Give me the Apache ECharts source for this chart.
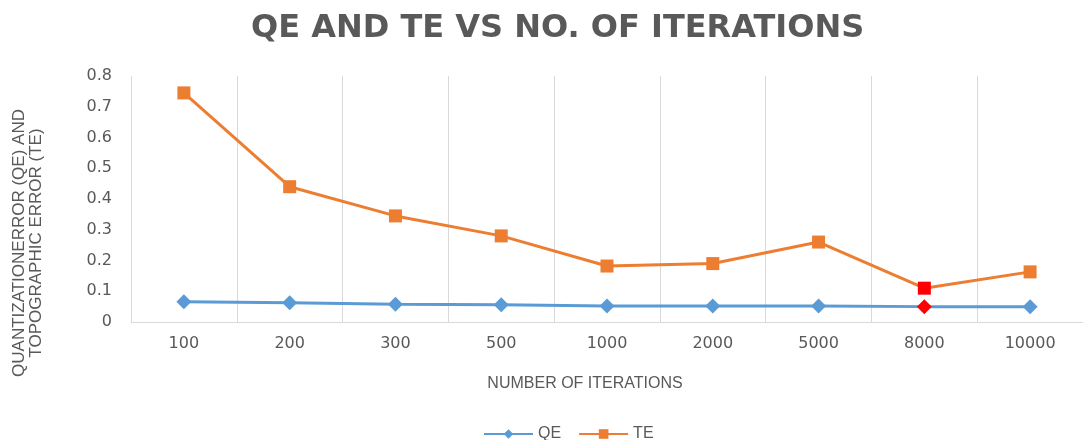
<!DOCTYPE html>
<html>
<head>
<meta charset="utf-8">
<title>QE and TE vs No. of Iterations</title>
<script src="https://cdn.jsdelivr.net/npm/echarts@6/dist/echarts.min.js"></script>
<style>
  html, body { margin: 0; padding: 0; background: #fff; }
  #chart { width: 1083px; height: 440px; }
</style>
</head>
<body>
<div id="chart"></div>
<script>
// data
var iterations = ['100', '200', '300', '500', '1000', '2000', '5000', '8000', '10000']
var qeValues = [0.066, 0.063, 0.058, 0.056, 0.052, 0.052, 0.052, 0.05, 0.05]
var teValues = [0.745, 0.44, 0.345, 0.28, 0.182, 0.19, 0.26, 0.11, 0.163]
var highlightIndex = 7 // the 8000 point is drawn in red

var textColor = '#595959'
var gridColor = '#D9D9D9'

function markRed(values) {
  return values.map(function (v, i) {
    if (i === highlightIndex) {
      return { value: v, itemStyle: { color: '#FF0000' } }
    }
    return v
  })
}

var chart = echarts.init(document.getElementById('chart'))

chart.setOption({
  animation: false,
  title: {
    text: 'QE AND TE VS NO. OF ITERATIONS',
    left: 246,
    top: 8,
    textStyle: {
      fontFamily: 'DejaVu Sans',
      fontWeight: 'bold',
      fontSize: 32,
      color: textColor
    }
  },
  legend: {
    left: 478,
    top: 421,
    itemWidth: 49,
    itemHeight: 12,
    itemGap: 17,
    data: ['QE', 'TE'],
    textStyle: {
      fontFamily: 'Liberation Sans',
      fontSize: 16,
      color: textColor
    }
  },
  grid: {
    left: 131,
    right: -8,
    top: 76,
    bottom: 118
  },
  xAxis: {
    type: 'category',
    data: iterations,
    boundaryGap: true,
    axisLine: { lineStyle: { color: gridColor, width: 1 } },
    axisTick: { show: false },
    axisLabel: {
      margin: 14,
      fontFamily: 'DejaVu Sans',
      fontSize: 16,
      color: textColor
    },
    splitLine: {
      show: true,
      lineStyle: { color: gridColor, width: 1 }
    }
  },
  yAxis: {
    type: 'value',
    min: 0,
    max: 0.8,
    interval: 0.1,
    axisLine: { show: false },
    axisTick: { show: false },
    splitLine: { show: false },
    axisLabel: {
      margin: 19,
      fontFamily: 'DejaVu Sans',
      fontSize: 16,
      color: textColor
    }
  },
  graphic: [
    {
      type: 'text',
      x: 28,
      y: 243,
      rotation: Math.PI / 2,
      style: {
        text: 'QUANTIZATIONERROR (QE) AND\nTOPOGRAPHIC ERROR (TE)',
        align: 'center',
        verticalAlign: 'middle',
        fontFamily: 'Liberation Sans',
        fontSize: 17,
        lineHeight: 17,
        fill: textColor
      }
    },
    {
      type: 'text',
      x: 585,
      y: 384,
      style: {
        text: 'NUMBER OF ITERATIONS',
        align: 'center',
        verticalAlign: 'middle',
        fontFamily: 'Liberation Sans',
        fontSize: 16,
        fill: textColor
      }
    }
  ],
  series: [
    {
      name: 'QE',
      type: 'line',
      data: markRed(qeValues),
      symbol: 'diamond',
      symbolSize: 15,
      color: '#5B9BD5',
      lineStyle: { width: 3, color: '#5B9BD5' },
      itemStyle: { color: '#5B9BD5' }
    },
    {
      name: 'TE',
      type: 'line',
      data: markRed(teValues),
      symbol: 'rect',
      symbolSize: 13,
      color: '#ED7D31',
      lineStyle: { width: 3, color: '#ED7D31' },
      itemStyle: { color: '#ED7D31' }
    }
  ]
})
</script>
</body>
</html>
